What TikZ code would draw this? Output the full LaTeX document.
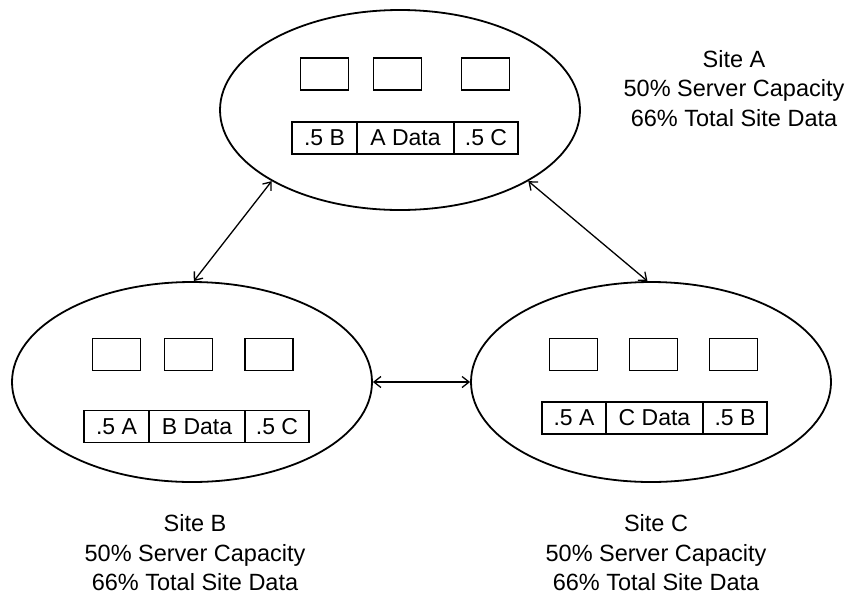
\documentclass[tikz,border=0pt]{standalone}
\usepackage{fontspec}
\setmainfont{Liberation Sans}
\usetikzlibrary{shapes.geometric,arrows.meta}
\begin{document}
\begin{tikzpicture}[x=1pt,y=-1pt,
  site/.style={draw,line width=1.8pt,ellipse,inner sep=0pt,minimum width=360pt,minimum height=200pt},
  srv/.style={draw,line width=1.5pt,inner sep=0pt,minimum width=48pt,minimum height=32pt},
  cell/.style={draw,line width=1.5pt,inner sep=0pt,minimum height=32pt,font=\fontsize{23}{28}\selectfont},
  lbl/.style={inner sep=0pt,align=center,text depth=0pt,font=\fontsize{23.5}{29.5}\selectfont},
  link/.style={line width=1.3pt,{Straight Barb[length=7pt,width=11pt]}-{Straight Barb[length=7pt,width=11pt]}}]
\useasboundingbox (0,0) rectangle (850,595);
% ellipses
\node[site] (A) at (400,110) {};
\node[site] (B) at (192,382) {};
\node[site] (C) at (651,382) {};
% Site A contents
\node[srv] (a1) at (324.5,74) {};
\node[srv] (a2) at (397.5,74) {};
\node[srv] (a3) at (485.5,74) {};
\node[cell,minimum width=65pt] (ad1) at (324.5,138) {.5 B};
\node[cell,minimum width=97pt] (ad2) at (405.5,138) {A Data};
\node[cell,minimum width=64pt] (ad3) at (486,138) {.5 C};
% Site B contents
\node[srv] (b1) at (116.5,354.5) {};
\node[srv] (b2) at (188.5,354.5) {};
\node[srv] (b3) at (269,354.5) {};
\node[cell,minimum width=65pt] (bd1) at (116.5,426.5) {.5 A};
\node[cell,minimum width=96pt] (bd2) at (197,426.5) {B Data};
\node[cell,minimum width=64pt] (bd3) at (277,426.5) {.5 C};
% Site C contents
\node[srv] (c1) at (573.5,354.5) {};
\node[srv] (c2) at (653.5,354.5) {};
\node[srv] (c3) at (733.5,354.5) {};
\node[cell,minimum width=64pt] (cd1) at (574,418) {.5 A};
\node[cell,minimum width=97pt] (cd2) at (654.5,418) {C Data};
\node[cell,minimum width=64pt] (cd3) at (735,418) {.5 B};
% labels
\node[lbl] (la) at (734,88) {Site A\\50\% Server Capacity\\66\% Total Site Data};
\node[lbl] (lb) at (195,552.5) {Site B\\50\% Server Capacity\\66\% Total Site Data};
\node[lbl] (lc) at (656,552.5) {Site C\\50\% Server Capacity\\66\% Total Site Data};
% links
\draw[link] (A.209.7) -- (B.89);
\draw[link] (A.-29) -- (C.92);
\draw[link] (B.east) -- (C.west);
\end{tikzpicture}
\end{document}
